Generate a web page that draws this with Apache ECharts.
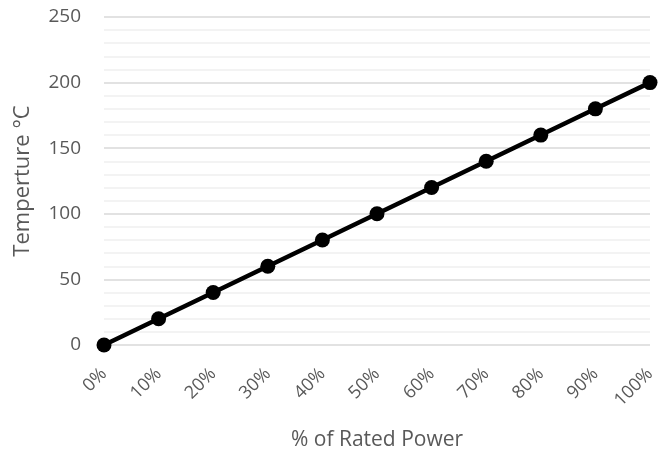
<!DOCTYPE html>
<html>
<head>
<meta charset="utf-8">
<script src="https://cdn.jsdelivr.net/npm/echarts@6/dist/echarts.min.js"></script>
<style>
    html, body { margin: 0; padding: 0; background: #fff; }
    #TempChart { width: 669px; height: 456px; }
</style>
</head>
<body>
<div id="TempChart"></div>
<script>
var powerLabels = ['0%', '10%', '20%', '30%', '40%', '50%', '60%', '70%', '80%', '90%', '100%'];
var tempValues = [0, 20, 40, 60, 80, 100, 120, 140, 160, 180, 200];
var yTicks = [0, 50, 100, 150, 200, 250];

var textColor = '#595959';
var fontName = '"Open Sans", "Liberation Sans", sans-serif';

var myChart = echarts.init(document.getElementById('TempChart'));
var option = {
    animation: false,
    backgroundColor: '#ffffff',
    grid: {
        left: 104,
        right: 19,
        top: 17,
        bottom: 111
    },
    xAxis: {
        type: 'category',
        data: powerLabels,
        boundaryGap: false,
        name: '% of Rated Power',
        nameLocation: 'middle',
        nameGap: 85,
        nameTextStyle: { color: textColor, fontSize: 21, fontFamily: fontName },
        axisLine: { show: false },
        axisTick: { show: false },
        axisLabel: {
            rotate: 45,
            color: textColor,
            fontSize: 18,
            fontFamily: fontName,
            margin: 26
        }
    },
    yAxis: {
        type: 'value',
        min: yTicks[0],
        max: yTicks[yTicks.length - 1],
        interval: 50,
        name: 'Temperture °C',
        nameLocation: 'middle',
        nameGap: 70,
        nameTextStyle: { color: textColor, fontSize: 22, fontFamily: fontName },
        axisLine: { show: false },
        axisTick: { show: false },
        axisLabel: {
            color: textColor,
            fontSize: 19,
            fontFamily: fontName,
            margin: 23
        },
        splitLine: { lineStyle: { color: '#d9d9d9', width: 1.5 } },
        minorTick: { show: false, splitNumber: 5 },
        minorSplitLine: { show: true, lineStyle: { color: '#efefef', width: 1.5 } }
    },
    series: [
        {
            name: 'Temperature',
            type: 'line',
            data: tempValues,
            symbol: 'circle',
            symbolSize: 15,
            lineStyle: { color: '#000000', width: 4.5 },
            itemStyle: { color: '#000000' }
        }
    ]
};
myChart.setOption(option);
</script>
</body>
</html>
